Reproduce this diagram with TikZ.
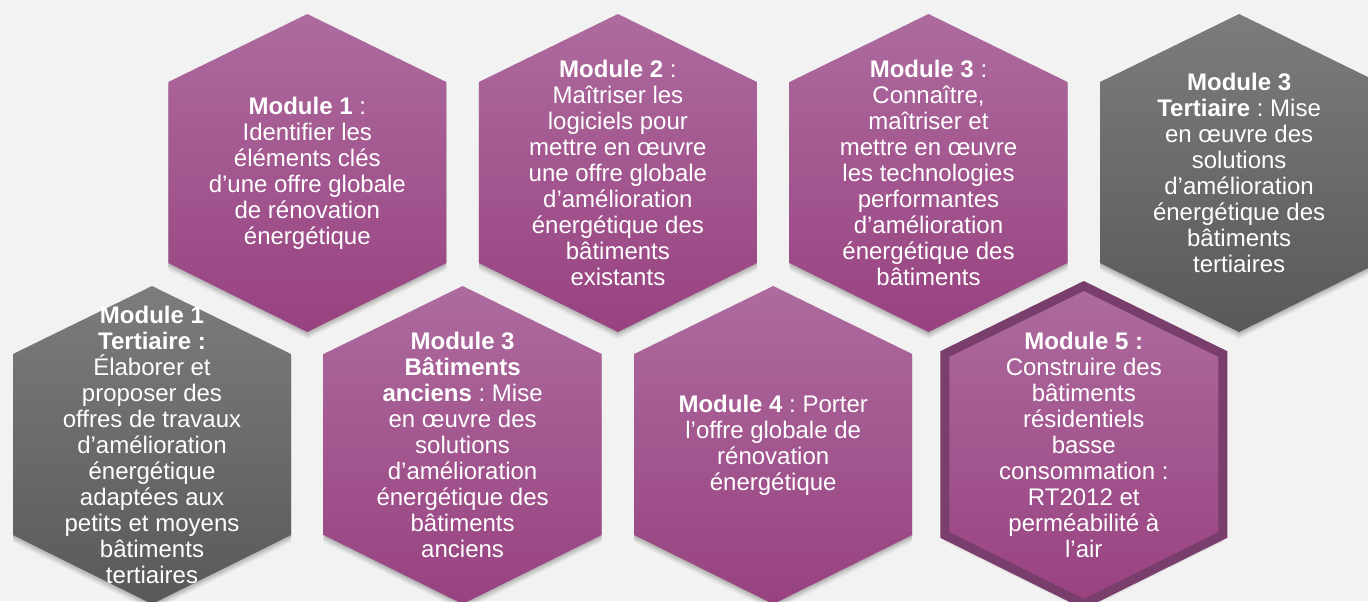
\documentclass[tikz,border=0pt]{standalone}
\usepackage{fontspec}
\setmainfont{Liberation Sans}
\usepackage{xcolor}
\usetikzlibrary{positioning}
\frenchspacing

\definecolor{plumtop}{HTML}{AD6B9E}
\definecolor{plumbot}{HTML}{984280}
\definecolor{greytop}{HTML}{7C7C7C}
\definecolor{greybot}{HTML}{595959}
\definecolor{plumedge}{HTML}{7A3E6C}
\definecolor{backgr}{HTML}{F2F2F2}

% one honeycomb cell round a centre (pixel units), with a soft shadow
\newcommand{\hexcell}[2]{%
  \foreach \dy/\op in {7/0.05,5/0.07,3/0.09,1/0.08}
    {\fill[black,opacity=\op,shift={(#1)}] (0,159-\dy) -- (139,91-\dy) -- (139,-90-\dy)
       -- (0,-159-\dy) -- (-139,-90-\dy) -- (-139,91-\dy) -- cycle;}
  \path[shift={(#1)},#2] (0,159) -- (139,91) -- (139,-90) -- (0,-159)
    -- (-139,-90) -- (-139,91) -- cycle;}

\begin{document}
\begin{tikzpicture}[x=0.75pt, y=0.75pt,
  cell/.style={font=\fontsize{18}{19.5}\selectfont, text=white, align=center},
  plumcell/.style={top color=plumtop, bottom color=plumbot},
  greycell/.style={top color=greytop, bottom color=greybot}]
  % Background
  \fill[backgr] (0,0) rectangle (1368,-601);
  \useasboundingbox (0,0) rectangle (1368,-601);
  \clip (0,0) rectangle (1368,-601);

  % Upper row
  \hexcell{307.3,-173}{plumcell}
  \node[cell] (m1) at (307.3,-173) {\textbf{Module 1} :\\Identifier les\\éléments clés\\d’une offre globale\\de rénovation\\énergétique};
  \hexcell{617.9,-173}{plumcell}
  \node[cell] (m2) at (617.9,-173) {\textbf{Module 2} :\\Maîtriser les\\logiciels pour\\mettre en œuvre\\une offre globale\\d’amélioration\\énergétique des\\bâtiments\\existants};
  \hexcell{928.5,-173}{plumcell}
  \node[cell] (m3) at (928.5,-173) {\textbf{Module 3} :\\Connaître,\\maîtriser et\\mettre en œuvre\\les technologies\\performantes\\d’amélioration\\énergétique des\\bâtiments};
  \hexcell{1239.1,-173}{greycell}
  \node[cell] (m3t) at (1239.1,-173) {\textbf{Module 3}\\\textbf{Tertiaire} : Mise\\en œuvre des\\solutions\\d’amélioration\\énergétique des\\bâtiments\\tertiaires};

  % Lower row
  \hexcell{152,-445}{greycell}
  \node[cell] (m1t) at (152,-445) {\textbf{Module 1}\\\textbf{Tertiaire :}\\Élaborer et\\proposer des\\offres de travaux\\d’amélioration\\énergétique\\adaptées aux\\petits et moyens\\bâtiments\\tertiaires};
  \hexcell{462.6,-445}{plumcell}
  \node[cell] (m3b) at (462.6,-445) {\textbf{Module 3}\\\textbf{Bâtiments}\\\textbf{anciens} : Mise\\en œuvre des\\solutions\\d’amélioration\\énergétique des\\bâtiments\\anciens};
  \hexcell{773.2,-445}{plumcell}
  \node[cell] (m4) at (773.2,-445) {\textbf{Module 4} : Porter\\l’offre globale de\\rénovation\\énergétique};
  \hexcell{1083.8,-445}{plumcell, draw=plumedge, line width=6.75pt}
  \node[cell] (m5) at (1083.8,-445) {\textbf{Module 5 :}\\Construire des\\bâtiments\\résidentiels\\basse\\consommation :\\RT2012 et\\perméabilité à\\l’air};
\end{tikzpicture}
\end{document}
